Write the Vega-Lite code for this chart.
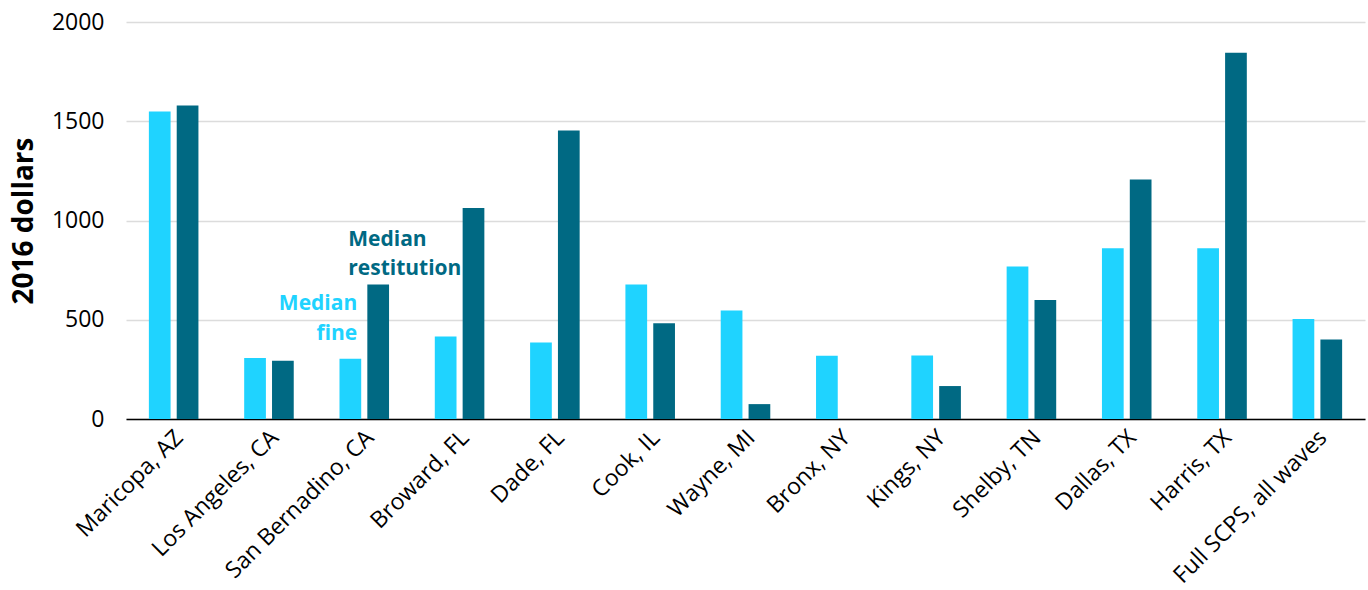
{
  "$schema": "https://vega.github.io/schema/vega-lite/v6.json",
  "width": 1239,
  "height": 397,
  "autosize": "none",
  "padding": {"left": 126, "top": 22, "right": 3, "bottom": 171},
  "background": "white",
  "config": {
    "view": {"stroke": null},
    "font": "Open Sans"
  },
  "datasets": {
    "bars": [
      {"county": "Maricopa, AZ", "series": "fine", "value": 1549},
      {"county": "Maricopa, AZ", "series": "restitution", "value": 1579},
      {"county": "Los Angeles, CA", "series": "fine", "value": 307},
      {"county": "Los Angeles, CA", "series": "restitution", "value": 294},
      {"county": "San Bernadino, CA", "series": "fine", "value": 304},
      {"county": "San Bernadino, CA", "series": "restitution", "value": 677},
      {"county": "Broward, FL", "series": "fine", "value": 415},
      {"county": "Broward, FL", "series": "restitution", "value": 1063},
      {"county": "Dade, FL", "series": "fine", "value": 386},
      {"county": "Dade, FL", "series": "restitution", "value": 1453},
      {"county": "Cook, IL", "series": "fine", "value": 678},
      {"county": "Cook, IL", "series": "restitution", "value": 482},
      {"county": "Wayne, MI", "series": "fine", "value": 546},
      {"county": "Wayne, MI", "series": "restitution", "value": 75},
      {"county": "Bronx, NY", "series": "fine", "value": 319},
      {"county": "Kings, NY", "series": "fine", "value": 320},
      {"county": "Kings, NY", "series": "restitution", "value": 166},
      {"county": "Shelby, TN", "series": "fine", "value": 768},
      {"county": "Shelby, TN", "series": "restitution", "value": 600},
      {"county": "Dallas, TX", "series": "fine", "value": 860},
      {"county": "Dallas, TX", "series": "restitution", "value": 1207},
      {"county": "Harris, TX", "series": "fine", "value": 860},
      {"county": "Harris, TX", "series": "restitution", "value": 1845},
      {"county": "Full SCPS, all waves", "series": "fine", "value": 504},
      {"county": "Full SCPS, all waves", "series": "restitution", "value": 400}
    ],
    "notes": [
      {"county": "San Bernadino, CA", "series": "restitution", "text": "Median", "value": 870},
      {"county": "San Bernadino, CA", "series": "restitution", "text": "restitution", "value": 727},
      {"county": "San Bernadino, CA", "series": "fine", "text": "Median", "value": 547},
      {"county": "San Bernadino, CA", "series": "fine", "text": "fine", "value": 400}
    ]
  },
  "layer": [
    {
      "data": {"name": "bars"},
      "mark": {"type": "bar"},
      "encoding": {
        "x": {
          "field": "county",
          "type": "nominal",
          "sort": null,
          "scale": {"paddingInner": 0.48, "paddingOuter": 0.24},
          "axis": {
            "title": null,
            "labelAngle": -45,
            "labelFontSize": 23,
            "labelColor": "black",
            "labelPadding": 7,
            "labelLimit": 0,
            "labelOffset": -2,
            "ticks": false,
            "domainColor": "black",
            "domainWidth": 1.6,
            "grid": false
          }
        },
        "xOffset": {
          "field": "series",
          "type": "nominal",
          "sort": ["fine", "restitution"],
          "scale": {"domain": ["fine", "restitution"], "paddingInner": 0.22, "paddingOuter": 0}
        },
        "y": {
          "field": "value",
          "type": "quantitative",
          "scale": {"domain": [0, 2000], "nice": false},
          "axis": {
            "title": "2016 dollars",
            "titleFontSize": 28,
            "titleFontWeight": "bold",
            "titleColor": "black",
            "titlePadding": 13,
            "values": [0, 500, 1000, 1500, 2000],
            "format": "d",
            "labelFontSize": 23,
            "labelColor": "black",
            "labelPadding": 22,
            "ticks": false,
            "domain": false,
            "gridColor": "#dcdcdc",
            "gridWidth": 1.5
          }
        },
        "color": {
          "field": "series",
          "type": "nominal",
          "scale": {"domain": ["fine", "restitution"], "range": ["#1fd3ff", "#006983"]},
          "legend": null
        }
      }
    },
    {
      "data": {"name": "notes"},
      "transform": [{"filter": "datum.series === 'restitution'"}],
      "mark": {"type": "text", "align": "left", "baseline": "alphabetic", "dx": -16, "fontSize": 21, "fontWeight": "bold"},
      "encoding": {
        "x": {"field": "county", "type": "nominal", "sort": null},
        "y": {"field": "value", "type": "quantitative"},
        "text": {"field": "text"},
        "color": {"field": "series", "type": "nominal", "legend": null}
      }
    },
    {
      "data": {"name": "notes"},
      "transform": [{"filter": "datum.series === 'fine'"}],
      "mark": {"type": "text", "align": "right", "baseline": "alphabetic", "dx": -7, "fontSize": 21, "fontWeight": "bold"},
      "encoding": {
        "x": {"field": "county", "type": "nominal", "sort": null},
        "y": {"field": "value", "type": "quantitative"},
        "text": {"field": "text"},
        "color": {"field": "series", "type": "nominal", "legend": null}
      }
    }
  ]
}
